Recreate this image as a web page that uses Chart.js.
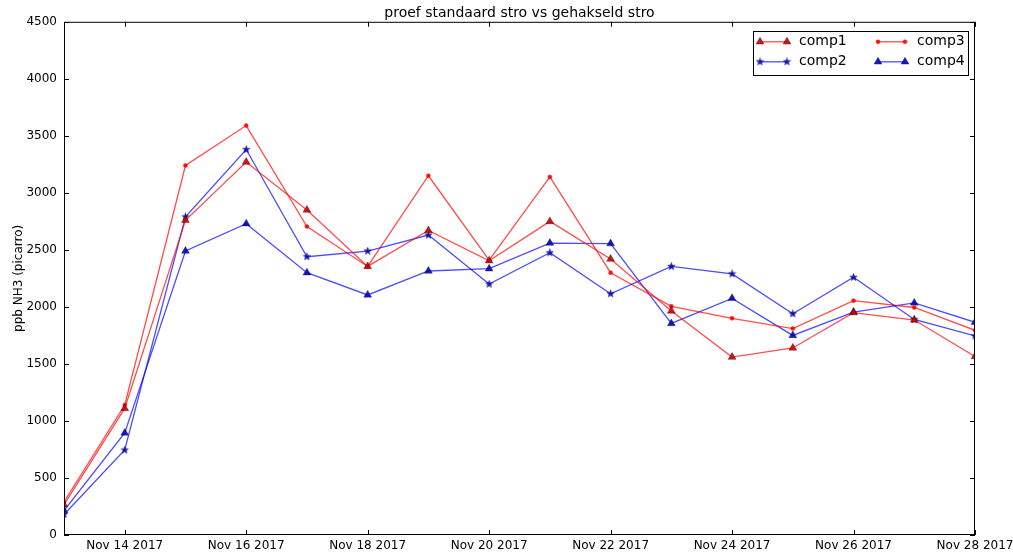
<!DOCTYPE html>
<html>
<head>
<meta charset="utf-8">
<script src="https://cdn.jsdelivr.net/npm/chart.js@4/dist/chart.umd.min.js"></script>
<style>
html, body { margin: 0; padding: 0; background: #fff; }
#wrap { width: 1013px; height: 553px; }
</style>
</head>
<body>
<div id="wrap"><canvas id="c"></canvas></div>
<script>
// days of November 2017
var days = [13, 14, 15, 16, 17, 18, 19, 20, 21, 22, 23, 24, 25, 26, 27, 28];
var tickDays = [14, 16, 18, 20, 22, 24, 26, 28];
var yTicks = [0, 500, 1000, 1500, 2000, 2500, 3000, 3500, 4000, 4500];

var comp1 = [265, 1110, 2760, 3270, 2850, 2355, 2670, 2405, 2750, 2420, 1965, 1560, 1640, 1950, 1885, 1565];
var comp2 = [180, 745, 2790, 3380, 2440, 2490, 2630, 2200, 2475, 2115, 2355, 2290, 1940, 2260, 1890, 1745];
var comp3 = [290, 1140, 3240, 3590, 2705, 2355, 3150, 2410, 3140, 2300, 2005, 1900, 1810, 2055, 1995, 1795];
var comp4 = [215, 895, 2490, 2730, 2300, 2105, 2315, 2335, 2560, 2555, 1855, 2075, 1750, 1955, 2035, 1865];

var RED = 'rgba(255,0,0,0.7)';
var BLUE = 'rgba(0,0,255,0.7)';
var RED_MK = 'rgba(205,0,0,0.9)';
var BLUE_MK = 'rgba(0,0,205,0.9)';
var EDGE = 'rgba(0,0,0,0.7)';

Chart.defaults.font.family = '"DejaVu Sans", sans-serif';
Chart.defaults.color = '#000';

// filled 5 point star for comp2 markers
function starImg(fill, size) {
  var c = document.createElement('canvas');
  c.width = c.height = size;
  var g = c.getContext('2d');
  var cx = size / 2, cy = size / 2, r = size / 2 - 0.5, ri = r * 0.42;
  g.beginPath();
  for (var i = 0; i < 10; i++) {
    var a = -Math.PI / 2 + i * Math.PI / 5;
    var rr = i % 2 ? ri : r;
    g.lineTo(cx + rr * Math.cos(a), cy + rr * Math.sin(a));
  }
  g.closePath();
  g.fillStyle = fill; g.fill();
  g.strokeStyle = EDGE; g.lineWidth = 0.5; g.stroke();
  return c;
}
var star = starImg(BLUE_MK, 9);

function pts(arr) {
  return days.map(function (d, i) { return { x: d, y: arr[i] }; });
}

function ds(label, arr, color, mk, edge, style, radius) {
  return {
    label: label, data: pts(arr),
    borderColor: color, borderWidth: 1.3,
    pointStyle: style, pointRadius: radius,
    pointBackgroundColor: mk, pointBorderColor: edge, pointBorderWidth: 0.5,
    tension: 0, fill: false
  };
}

// frame + inward ticks like matplotlib
var framePlugin = {
  id: 'frame',
  afterDraw: function (chart) {
    var ctx = chart.ctx, a = chart.chartArea;
    var xs = chart.scales.x, ys = chart.scales.y;
    ctx.save();
    ctx.strokeStyle = '#000';
    ctx.lineWidth = 1;
    ctx.strokeRect(a.left + 0.5, a.top + 0.5, a.right - a.left - 1, a.bottom - a.top - 1);
    ctx.beginPath();
    tickDays.forEach(function (d) {
      var x = Math.round(xs.getPixelForValue(d)) + 0.5;
      ctx.moveTo(x, a.bottom); ctx.lineTo(x, a.bottom - 5);
      ctx.moveTo(x, a.top); ctx.lineTo(x, a.top + 5);
    });
    yTicks.forEach(function (v) {
      var y = Math.round(ys.getPixelForValue(v)) + 0.5;
      ctx.moveTo(a.left, y); ctx.lineTo(a.left + 5, y);
      ctx.moveTo(a.right, y); ctx.lineTo(a.right - 5, y);
    });
    ctx.stroke();
    ctx.restore();
  }
};

// two column legend box, top right
var legendPlugin = {
  id: 'boxLegend',
  afterDraw: function (chart) {
    var ctx = chart.ctx, a = chart.chartArea;
    var w = 215, h = 44;
    var bx = a.right - 7 - w, by = a.top + 9;
    ctx.save();
    ctx.fillStyle = '#fff';
    ctx.fillRect(bx, by, w, h);
    ctx.strokeStyle = '#000';
    ctx.lineWidth = 1;
    ctx.strokeRect(Math.round(bx) + 0.5, Math.round(by) + 0.5, w, h);
    [0, 1, 2, 3].forEach(function (i) {
      var d = chart.data.datasets[i];
      var col = i < 2 ? 0 : 1;
      var row = i % 2;
      var x0 = bx + 7 + col * 118, x1 = x0 + 27;
      var y = by + 11 + row * 20;
      ctx.strokeStyle = d.borderColor;
      ctx.lineWidth = d.borderWidth;
      ctx.beginPath(); ctx.moveTo(x0, y); ctx.lineTo(x1, y); ctx.stroke();
      ctx.fillStyle = d.pointBackgroundColor;
      ctx.strokeStyle = d.pointBorderColor;
      ctx.lineWidth = d.pointBorderWidth;
      [x0, x1].forEach(function (px) {
        Chart.helpers.drawPoint(ctx, {
          pointStyle: d.pointStyle, radius: d.pointRadius, rotation: 0,
          borderWidth: d.pointBorderWidth
        }, px, y);
      });
      ctx.fillStyle = '#000';
      ctx.font = '14px "DejaVu Sans", sans-serif';
      ctx.textBaseline = 'middle';
      ctx.fillText(d.label, x1 + 12, y);
    });
    ctx.restore();
  }
};

new Chart(document.getElementById('c'), {
  type: 'line',
  data: {
    datasets: [
      ds('comp1', comp1, RED, RED_MK, EDGE, 'triangle', 4.5),
      ds('comp2', comp2, BLUE, BLUE_MK, EDGE, star, 4),
      ds('comp3', comp3, RED, 'rgba(255,0,0,0.9)', 'rgba(255,0,0,0.9)', 'circle', 2),
      ds('comp4', comp4, BLUE, BLUE_MK, EDGE, 'triangle', 4.5)
    ]
  },
  options: {
    responsive: true,
    maintainAspectRatio: false,
    animation: false,
    layout: { padding: { left: 0, right: 0, top: 0, bottom: 0 } },
    plugins: {
      legend: { display: false },
      tooltip: { enabled: false },
      title: {
        display: true,
        fullSize: false,
        text: 'proef standaard stro vs gehakseld stro',
        font: { size: 14, weight: 'normal' },
        color: '#000',
        padding: { top: 5, bottom: 0 }
      }
    },
    scales: {
      x: {
        type: 'linear',
        min: 13, max: 28,
        afterBuildTicks: function (s) { s.ticks = tickDays.map(function (v) { return { value: v }; }); },
        afterFit: function (s) { s.height = 18; s.paddingRight = 38; },
        grid: { display: false, drawTicks: false },
        border: { display: false },
        ticks: {
          font: { size: 12 }, padding: 4, maxRotation: 0, autoSkip: false,
          callback: function (v) { return 'Nov ' + v + ' 2017'; }
        }
      },
      y: {
        min: 0, max: 4500,
        afterBuildTicks: function (s) { s.ticks = yTicks.map(function (v) { return { value: v }; }); },
        afterFit: function (s) { s.width = 64; },
        grid: { display: false, drawTicks: false },
        border: { display: false },
        title: {
          display: true, text: 'ppb NH3 (picarro)',
          font: { size: 12 }, color: '#000',
          padding: { top: 12, bottom: 0 }
        },
        ticks: {
          font: { size: 12 }, padding: 7,
          callback: function (v) { return String(v); }
        }
      }
    }
  },
  plugins: [framePlugin, legendPlugin]
});
</script>
</body>
</html>
